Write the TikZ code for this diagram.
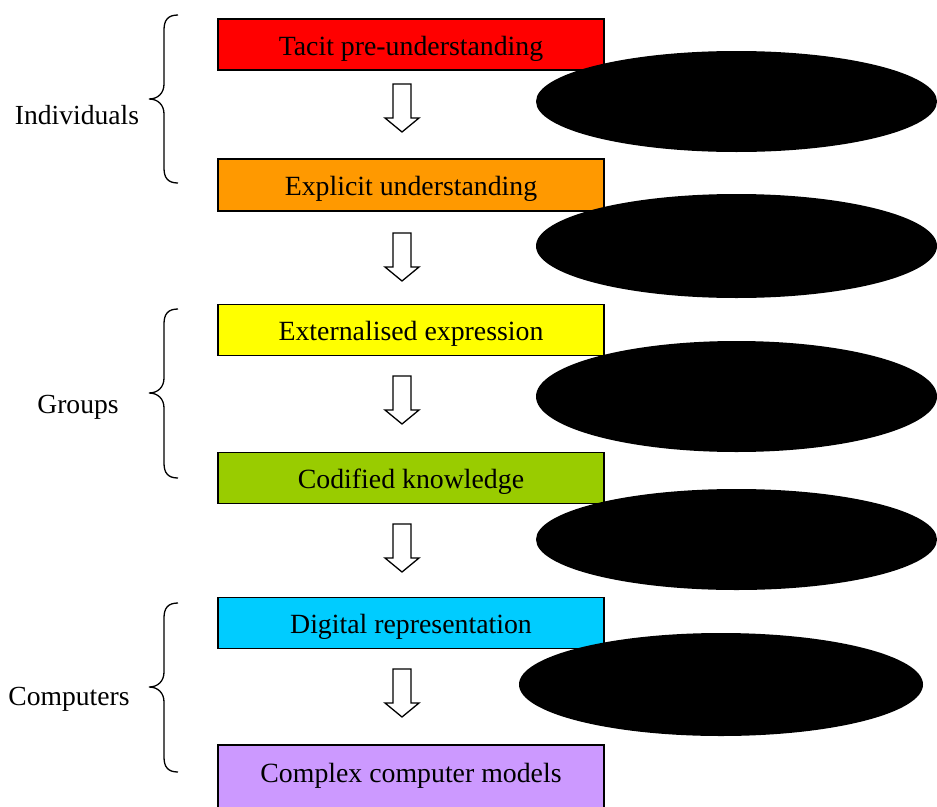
\documentclass[tikz,border=0pt]{standalone}
\usepackage{fontspec}
\setmainfont{Liberation Serif}
\usetikzlibrary{shapes.geometric}
\definecolor{cRed}{HTML}{FF0000}
\definecolor{cOrange}{HTML}{FF9900}
\definecolor{cYellow}{HTML}{FFFF00}
\definecolor{cGreen}{HTML}{99CC00}
\definecolor{cCyan}{HTML}{00CCFF}
\definecolor{cPurple}{HTML}{CC99FF}
\tikzset{
  stagebox/.style={draw=black, line width=1.3pt, rectangle, minimum width=386pt,
    minimum height=51pt, inner sep=0pt, text height=21pt, text depth=0pt,
    font=\fontsize{27.8}{32}\selectfont},
  blob/.style={ellipse, fill=black, draw=none, inner sep=0pt, minimum width=401pt},
  sidelabel/.style={anchor=base, inner sep=0pt, font=\fontsize{27.6}{32}\selectfont},
  bracepath/.style={draw=black, line width=1.3pt},
  blockarrow/.style={draw=black, fill=white, line width=1.3pt, line join=miter}
}
\newcommand{\hollowarrow}[1]{%
  \path[blockarrow] (393,#1) -- (411,#1) -- (411,#1+34) -- (419,#1+34) -- (402,#1+48)
    -- (385,#1+34) -- (393,#1+34) -- cycle;}
\newcommand{\leftbrace}[3]{% top, middle, bottom
  \path[bracepath] (178,#1) .. controls (168,#1) and (164,#1+5) .. (164,#1+15)
    -- (164,#2-15) .. controls (164,#2-6) and (158,#2) .. (149,#2)
    .. controls (158,#2) and (164,#2+6) .. (164,#2+15)
    -- (164,#3-15) .. controls (164,#3-5) and (168,#3) .. (178,#3);}
\begin{document}
\begin{tikzpicture}[x=1pt,y=-1pt]
\useasboundingbox[fill=white] (0,0) rectangle (937,806);

% stage boxes
\node[stagebox, fill=cRed]    (b1) at (411,44.5) {Tacit pre-understanding};
\node[stagebox, fill=cOrange, minimum height=52pt] (b2) at (411,185) {Explicit understanding};
\node[stagebox, fill=cYellow] (b3) at (411,330) {Externalised expression};
\node[stagebox, fill=cGreen]  (b4) at (411,478) {Codified knowledge};
\node[stagebox, fill=cCyan]   (b5) at (411,623) {Digital representation};
\node[stagebox, fill=cPurple, minimum height=64pt, text depth=11pt] (b6) at (411,777) {Complex computer models};

% hollow arrows between stages
\hollowarrow{84}
\hollowarrow{233}
\hollowarrow{376}
\hollowarrow{524}
\hollowarrow{669}

% black ellipses
\node[blob, minimum height=101pt] (e1) at (736.5,101.5) {};
\node[blob, minimum height=104pt] (e2) at (736.5,246) {};
\node[blob, minimum height=111pt] (e3) at (736.5,396.5) {};
\node[blob, minimum height=101pt] (e4) at (736.5,539.5) {};
\node[blob, minimum height=103pt, minimum width=404pt] (e5) at (721,684.5) {};

% braces
\leftbrace{15}{99}{183}
\leftbrace{309}{393}{478}
\leftbrace{603}{687}{772}

% side labels
\node[sidelabel] (l1) at (77,124) {Individuals};
\node[sidelabel] (l2) at (78,413) {Groups};
\node[sidelabel] (l3) at (69,705) {Computers};
\end{tikzpicture}
\end{document}
